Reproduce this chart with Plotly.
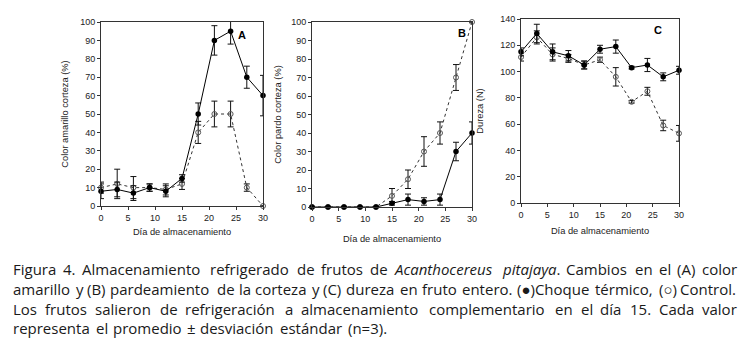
import plotly.graph_objects as go

W, H = 753, 351

days = [0, 3, 6, 9, 12, 15, 18, 21, 24, 27, 30]

# Panel A: Color amarillo corteza (%)
a_choque = [8, 9, 7, 10, 8, 15, 50, 90, 95, 70, 60]
a_choque_sd = [4, 4, 4, 2, 3, 2, 6, 8, 7, 6, 11]
a_control = [10, 12, 10, 10, 9, 12, 40, 50, 50, 10, 0]
a_control_sd = [3, 8, 6, 2, 3, 3, 6, 7, 7, 2, 0]

# Panel B: Color pardo corteza (%)
b_choque = [0, 0, 0, 0, 0, 2, 4, 3, 4, 30, 40]
b_choque_sd = [0, 0, 0, 0, 0, 1, 3, 2, 3, 5, 6]
b_control = [0, 0, 0, 0, 0, 6, 15, 30, 40, 70, 100]
b_control_sd = [0, 0, 0, 0, 0, 4, 5, 8, 6, 7, 0]

# Panel C: Dureza (N)
c_choque = [115, 129, 115, 112, 105, 117, 119, 103, 105, 96, 101]
c_choque_sd = [3, 7, 6, 4, 3, 3, 5, 1, 5, 3, 3]
c_control = [111, 126, 113, 110, 105, 109, 96, 77, 85, 59, 53]
c_control_sd = [3, 5, 5, 3, 3, 2, 7, 1, 3, 4, 6]

x_ticks = [0, 5, 10, 15, 20, 25, 30]
x_title = "Día de almacenamiento"
y_titles = ["Color amarillo corteza (%)", "Color pardo corteza (%)", "Dureza (N)"]
panel_labels = ["A", "B", "C"]
y_ranges = [[0, 100], [0, 100], [0, 140]]
y_dticks = [10, 10, 20]

# caption: list of words per line; tuples are italic words
caption_lines = [
    ["Figura", "4.", "Almacenamiento", "refrigerado", "de", "frutos", "de", ("Acanthocereus",), ("pitajaya",), "Cambios", "en", "el", "(A)", "color"],
    ["amarillo", "y", "(B)", "pardeamiento", "de", "la", "corteza", "y", "(C)", "dureza", "en", "fruto", "entero.", "(●)Choque", "térmico,", "(○)", "Control."],
    ["Los", "frutos", "salieron", "de", "refrigeración", "a", "almacenamiento", "complementario", "en", "el", "día", "15.", "Cada", "valor"],
    ["representa", "el", "promedio", "±", "desviación", "estándar", "(n=3)."],
]
caption_justify = [True, True, True, False]

# approximate Open Sans advance widths (per 1000 em)
CW = {' ': 260, 'a': 556, 'b': 613, 'c': 476, 'd': 613, 'e': 561, 'f': 339, 'g': 548, 'h': 614, 'i': 253,
      'j': 253, 'k': 525, 'l': 253, 'm': 930, 'n': 614, 'o': 604, 'p': 613, 'q': 613, 'r': 408, 's': 477,
      't': 353, 'u': 614, 'v': 501, 'w': 778, 'x': 524, 'y': 502, 'z': 477, 'á': 556, 'é': 561, 'í': 253,
      'ó': 604, 'F': 516, 'A': 633, 'B': 647, 'C': 631, 'L': 520, '(': 301, ')': 301, '.': 266, ',': 250,
      '±': 572, '=': 572, '●': 560, '○': 560}


def text_width(s, size, italic=False):
    w = sum(CW.get(ch, 572 if ch.isdigit() else 560) for ch in s) * size / 1000 * 1.03
    return w * (0.96 if italic else 1.0)


fig = go.Figure()
panels = [
    (a_choque, a_choque_sd, a_control, a_control_sd),
    (b_choque, b_choque_sd, b_control, b_control_sd),
    (c_choque, c_choque_sd, c_control, c_control_sd),
]
axis_font = "Arial, Liberation Sans, sans-serif"
tick_font = dict(family=axis_font, size=9, color="#222")
for i, (ch, chsd, co, cosd) in enumerate(panels):
    xa = "x" if i == 0 else f"x{i+1}"
    ya = "y" if i == 0 else f"y{i+1}"

    def err(sd):
        return dict(type="data", array=sd, visible=True, color="#111", thickness=1, width=3)

    fig.add_trace(go.Scatter(x=days, y=co, error_y=err(cosd), mode="lines+markers",
                             line=dict(color="#333", width=1, dash="3px,3px"),
                             marker=dict(symbol="circle-open", size=5, color="#555", line=dict(width=1)),
                             name="Control", showlegend=False, cliponaxis=False, xaxis=xa, yaxis=ya))
    fig.add_trace(go.Scatter(x=days, y=ch, error_y=err(chsd), mode="lines+markers",
                             line=dict(color="black", width=1),
                             marker=dict(symbol="circle", size=5.5, color="black"),
                             name="Choque térmico", showlegend=False, cliponaxis=False, xaxis=xa, yaxis=ya))

layout = dict(width=W, height=H, margin=dict(l=0, r=0, t=0, b=0, autoexpand=False),
              paper_bgcolor="white", plot_bgcolor="white", showlegend=False)

boxes = [(101, 263, 22, 206), (312, 472, 22, 207), (521, 679, 19, 203)]
xtitle_standoff = [6, 12, 8]
ytitle_standoff = [9, 7, 14]
for i, (l, r, t, b) in enumerate(boxes):
    sfx = "" if i == 0 else str(i + 1)
    layout["xaxis" + sfx] = dict(
        domain=[l / W, r / W], anchor="y" + sfx, range=[0, 30], tickvals=x_ticks, automargin=False,
        ticks="outside", ticklen=3, tickcolor="#333", showline=True, linecolor="#333", linewidth=1,
        mirror=True, showgrid=False, zeroline=False, tickfont=tick_font,
        title=dict(text=x_title, font=dict(family=axis_font, size=9.3, color="#222"),
                   standoff=xtitle_standoff[i]))
    layout["yaxis" + sfx] = dict(
        domain=[1 - b / H, 1 - t / H], anchor="x" + sfx, range=y_ranges[i], dtick=y_dticks[i], automargin=False,
        ticks="outside", ticklen=3, tickcolor="#333", showline=True, linecolor="#333", linewidth=1,
        mirror=True, showgrid=False, zeroline=False, tickfont=tick_font,
        title=dict(text=y_titles[i], font=dict(family=axis_font, size=9.3, color="#222"),
                   standoff=ytitle_standoff[i]))

annotations = []
label_pos = [(242, 35), (462, 33), (658, 30)]
for i, (px, py) in enumerate(label_pos):
    annotations.append(dict(x=px / W, y=1 - py / H, xref="paper", yref="paper", text=f"<b>{panel_labels[i]}</b>",
                            showarrow=False, font=dict(family="Arial, Liberation Sans", size=11, color="black"),
                            xanchor="center", yanchor="middle"))

# justified caption, word by word
cap_left, cap_right = 12, 737
cap_y = [269, 289, 309, 328]
for j, words in enumerate(caption_lines):
    size = 15.0
    items = []
    for w in words:
        if isinstance(w, tuple):
            txt = w[0]
            if txt == "pitajaya":
                items.append((f"<i>{txt}</i>.", text_width(txt, size, True) + text_width(".", size), True))
            else:
                items.append((f"<i>{txt}</i>", text_width(txt, size, True), True))
        else:
            items.append((w, text_width(w, size), False))
    total = sum(it[1] for it in items)
    if caption_justify[j]:
        gap = (cap_right - cap_left - total) / (len(items) - 1)
        if gap < 3.2:
            scale = (cap_right - cap_left - 3.2 * (len(items) - 1)) / total
            size *= scale
            items = [(t, wd * scale, it) for t, wd, it in items]
            gap = 3.2
    else:
        gap = text_width(" ", size)
    x = cap_left
    for t, wd, it in items:
        annotations.append(dict(x=x / W, y=1 - cap_y[j] / H, xref="paper", yref="paper", text=t,
                                showarrow=False, xanchor="left", yanchor="middle", align="left", borderpad=0,
                                font=dict(family="Open Sans", size=size, color="#1a1a1a")))
        x += wd + gap

layout["annotations"] = annotations
fig.update_layout(**layout)
fig.write_html("out.html", config={"displayModeBar": False},
               post_script="document.body.style.margin='0px';document.body.style.overflow='hidden';")
